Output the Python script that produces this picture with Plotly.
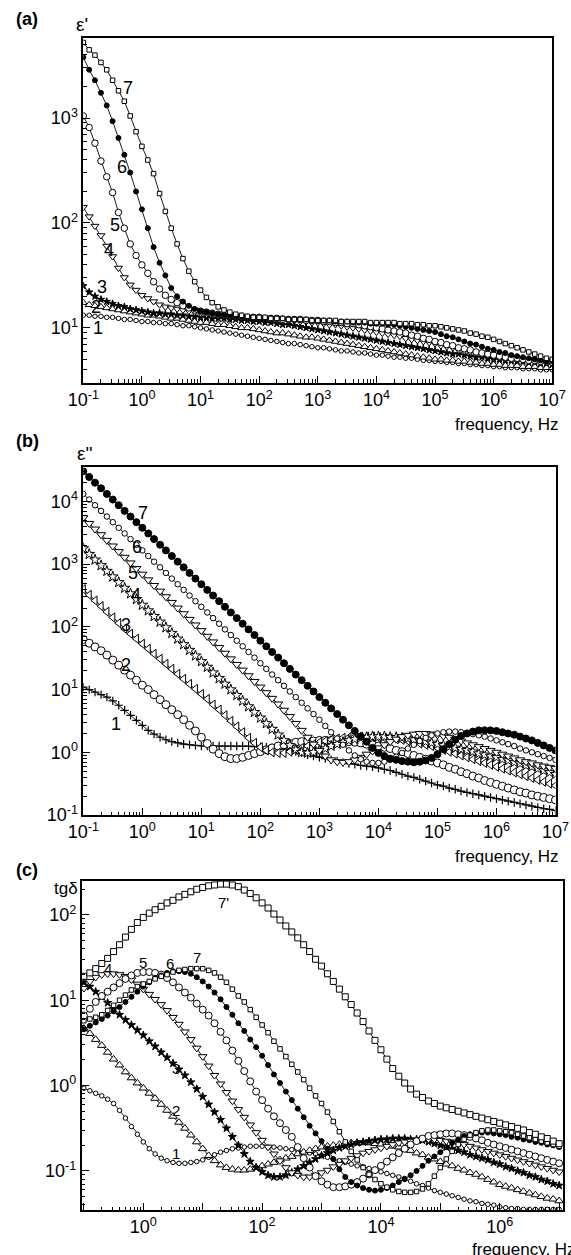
import plotly.graph_objects as go

# ---------------- data (stored as log10) ----------------
FREQ_HZ = [
    0.1, 0.126, 0.158, 0.2, 0.251, 0.316, 0.398, 0.501, 0.631, 0.794,
    1, 1.26, 1.58, 2, 2.51, 3.16, 3.98, 5.01, 6.31, 7.94,
    10, 12.6, 15.8, 20, 25.1, 31.6, 39.8, 50.1, 63.1, 79.4,
    100, 126, 158, 200, 251, 316, 398, 501, 631, 794,
    1e3, 1.26e3, 1.58e3, 2e3, 2.51e3, 3.16e3, 3.98e3, 5.01e3, 6.31e3, 7.94e3,
    1e4, 1.26e4, 1.58e4, 2e4, 2.51e4, 3.16e4, 3.98e4, 5.01e4, 6.31e4, 7.94e4,
    1e5, 1.26e5, 1.58e5, 2e5, 2.51e5, 3.16e5, 3.98e5, 5.01e5, 6.31e5, 7.94e5,
    1e6, 1.26e6, 1.58e6, 2e6, 2.51e6, 3.16e6, 3.98e6, 5.01e6, 6.31e6, 7.94e6,
    1e7,
]

# (a) eps' , log10
epsP_1 = [1.12,1.12,1.11,1.11,1.10,1.10,1.09,1.08,1.08,1.07,
          1.06,1.06,1.05,1.05,1.04,1.04,1.03,1.02,1.02,1.01,
          1.00,0.99,0.98,0.97,0.96,0.95,0.94,0.93,0.92,0.91,
          0.90,0.89,0.88,0.87,0.86,0.85,0.85,0.84,0.83,0.82,
          0.81,0.81,0.80,0.79,0.78,0.78,0.77,0.76,0.76,0.75,
          0.74,0.74,0.73,0.72,0.72,0.71,0.71,0.70,0.69,0.69,
          0.68,0.68,0.67,0.67,0.66,0.66,0.65,0.65,0.64,0.64,
          0.63,0.63,0.62,0.62,0.62,0.61,0.61,0.61,0.60,0.60,
          0.60]
epsP_2 = [1.24,1.22,1.21,1.20,1.19,1.18,1.17,1.16,1.15,1.14,
          1.13,1.12,1.12,1.11,1.10,1.09,1.09,1.08,1.07,1.06,
          1.05,1.05,1.04,1.03,1.03,1.02,1.01,1.00,1.00,0.99,
          0.98,0.97,0.96,0.95,0.95,0.94,0.93,0.92,0.91,0.91,
          0.90,0.89,0.88,0.87,0.86,0.85,0.84,0.83,0.82,0.81,
          0.80,0.79,0.78,0.77,0.76,0.75,0.74,0.73,0.72,0.71,
          0.70,0.70,0.69,0.69,0.68,0.68,0.67,0.67,0.66,0.66,
          0.65,0.65,0.64,0.64,0.64,0.63,0.63,0.63,0.62,0.62,
          0.62]
epsP_3 = [1.40,1.34,1.30,1.27,1.25,1.23,1.21,1.20,1.18,1.17,
          1.16,1.15,1.14,1.14,1.13,1.13,1.12,1.12,1.11,1.11,
          1.10,1.10,1.09,1.09,1.09,1.08,1.08,1.07,1.07,1.06,
          1.06,1.05,1.05,1.04,1.03,1.03,1.02,1.01,1.00,0.99,
          0.98,0.97,0.96,0.95,0.94,0.93,0.92,0.91,0.90,0.89,
          0.88,0.87,0.86,0.85,0.84,0.83,0.82,0.81,0.80,0.79,
          0.78,0.77,0.76,0.75,0.75,0.74,0.73,0.72,0.72,0.71,
          0.70,0.70,0.69,0.69,0.68,0.68,0.67,0.67,0.66,0.66,
          0.65]
epsP_4 = [2.15,2.06,1.97,1.88,1.78,1.68,1.57,1.48,1.41,1.36,
          1.31,1.28,1.25,1.22,1.20,1.19,1.18,1.17,1.16,1.15,
          1.14,1.13,1.13,1.12,1.12,1.11,1.11,1.11,1.10,1.10,
          1.10,1.09,1.09,1.08,1.08,1.07,1.07,1.06,1.06,1.05,
          1.05,1.04,1.03,1.03,1.02,1.01,1.00,0.99,0.98,0.97,
          0.96,0.95,0.94,0.93,0.92,0.90,0.89,0.88,0.87,0.86,
          0.85,0.83,0.82,0.81,0.79,0.78,0.77,0.76,0.75,0.74,
          0.73,0.72,0.71,0.70,0.70,0.69,0.68,0.68,0.67,0.67,
          0.66]
epsP_5 = [3.02,2.91,2.76,2.59,2.44,2.29,2.10,1.95,1.80,1.69,
          1.60,1.52,1.44,1.37,1.31,1.27,1.24,1.21,1.19,1.17,
          1.16,1.15,1.14,1.13,1.12,1.12,1.11,1.11,1.10,1.10,
          1.10,1.09,1.09,1.09,1.08,1.08,1.08,1.08,1.07,1.07,
          1.07,1.06,1.06,1.05,1.05,1.04,1.04,1.03,1.02,1.01,
          1.00,0.99,0.98,0.97,0.96,0.95,0.93,0.92,0.90,0.89,
          0.87,0.86,0.84,0.83,0.81,0.80,0.79,0.77,0.76,0.75,
          0.74,0.73,0.72,0.71,0.71,0.70,0.69,0.69,0.68,0.68,
          0.67]
epsP_6 = [3.58,3.46,3.36,3.24,3.12,2.97,2.81,2.65,2.48,2.30,
          2.13,1.95,1.77,1.62,1.50,1.38,1.30,1.25,1.21,1.18,
          1.16,1.15,1.14,1.13,1.12,1.12,1.11,1.11,1.10,1.10,
          1.10,1.09,1.09,1.09,1.09,1.08,1.08,1.08,1.08,1.07,
          1.07,1.07,1.07,1.06,1.06,1.06,1.05,1.05,1.05,1.04,
          1.04,1.04,1.03,1.03,1.02,1.01,1.00,0.99,0.98,0.97,
          0.96,0.94,0.92,0.91,0.89,0.87,0.85,0.84,0.82,0.80,
          0.79,0.77,0.76,0.74,0.73,0.72,0.71,0.70,0.69,0.68,
          0.68]
epsP_7 = [3.72,3.65,3.60,3.53,3.46,3.36,3.26,3.16,3.02,2.87,
          2.73,2.60,2.47,2.28,2.11,1.95,1.80,1.66,1.54,1.44,
          1.36,1.29,1.24,1.20,1.17,1.15,1.13,1.12,1.11,1.10,
          1.10,1.10,1.09,1.09,1.09,1.08,1.08,1.08,1.08,1.07,
          1.07,1.07,1.07,1.07,1.06,1.06,1.06,1.06,1.06,1.05,
          1.05,1.05,1.05,1.05,1.04,1.04,1.04,1.03,1.03,1.02,
          1.02,1.01,1.00,0.99,0.98,0.97,0.95,0.94,0.92,0.91,
          0.89,0.87,0.85,0.83,0.81,0.79,0.77,0.75,0.73,0.71,
          0.70]

# (b) eps'' , log10
epsPP_1 = [1.04,1.00,0.96,0.92,0.88,0.82,0.75,0.67,0.59,0.51,
           0.43,0.35,0.29,0.24,0.20,0.17,0.15,0.13,0.12,0.11,
           0.10,0.10,0.10,0.10,0.10,0.10,0.10,0.10,0.10,0.09,
           0.09,0.08,0.07,0.06,0.05,0.03,0.01,-0.01,-0.04,-0.06,
           -0.08,-0.10,-0.12,-0.14,-0.16,-0.18,-0.19,-0.21,-0.22,-0.23,
           -0.25,-0.27,-0.29,-0.32,-0.35,-0.38,-0.40,-0.43,-0.46,-0.49,
           -0.52,-0.54,-0.57,-0.59,-0.62,-0.64,-0.66,-0.68,-0.70,-0.72,
           -0.74,-0.76,-0.78,-0.80,-0.82,-0.84,-0.86,-0.88,-0.90,-0.91,
           -0.93]
epsPP_2 = [1.80,1.74,1.68,1.62,1.55,1.47,1.39,1.31,1.23,1.15,
           1.07,1.00,0.92,0.84,0.76,0.68,0.60,0.52,0.43,0.34,
           0.24,0.14,0.05,-0.02,-0.07,-0.10,-0.10,-0.08,-0.05,-0.02,
           0.01,0.04,0.07,0.10,0.12,0.14,0.16,0.17,0.18,0.18,
           0.19,0.19,0.19,0.18,0.18,0.17,0.16,0.15,0.13,0.12,
           0.10,0.08,0.06,0.03,0.01,-0.02,-0.05,-0.08,-0.11,-0.14,
           -0.17,-0.20,-0.24,-0.27,-0.31,-0.34,-0.38,-0.41,-0.45,-0.48,
           -0.51,-0.54,-0.57,-0.60,-0.63,-0.65,-0.68,-0.70,-0.72,-0.74,
           -0.76]
epsPP_3 = [2.60,2.51,2.42,2.33,2.24,2.15,2.06,1.97,1.89,1.81,
           1.73,1.65,1.57,1.49,1.41,1.33,1.25,1.17,1.09,1.01,
           0.93,0.85,0.76,0.68,0.59,0.50,0.41,0.32,0.23,0.15,
           0.08,0.03,0.00,-0.01,-0.01,0.01,0.04,0.07,0.10,0.13,
           0.16,0.18,0.20,0.22,0.23,0.24,0.25,0.25,0.25,0.25,
           0.24,0.23,0.22,0.21,0.20,0.18,0.16,0.14,0.12,0.10,
           0.07,0.04,0.01,-0.02,-0.05,-0.08,-0.11,-0.14,-0.17,-0.20,
           -0.23,-0.26,-0.29,-0.32,-0.35,-0.38,-0.41,-0.44,-0.47,-0.50,
           -0.53]
epsPP_4 = [3.25,3.16,3.07,2.98,2.89,2.80,2.71,2.62,2.53,2.44,
           2.35,2.26,2.17,2.08,1.99,1.90,1.81,1.72,1.63,1.54,
           1.45,1.36,1.27,1.18,1.09,1.00,0.91,0.82,0.73,0.64,
           0.55,0.46,0.37,0.28,0.19,0.11,0.04,0.00,-0.01,0.00,
           0.03,0.06,0.10,0.13,0.16,0.19,0.21,0.23,0.24,0.25,
           0.25,0.25,0.24,0.24,0.23,0.22,0.20,0.19,0.17,0.15,
           0.13,0.11,0.09,0.07,0.05,0.03,0.01,-0.02,-0.04,-0.06,
           -0.08,-0.11,-0.13,-0.16,-0.18,-0.21,-0.23,-0.26,-0.29,-0.32,
           -0.35]
epsPP_5 = [3.74,3.65,3.56,3.47,3.38,3.29,3.20,3.11,3.02,2.93,
           2.84,2.75,2.66,2.57,2.48,2.39,2.30,2.21,2.12,2.03,
           1.94,1.85,1.76,1.67,1.58,1.49,1.40,1.31,1.22,1.13,
           1.04,0.95,0.86,0.77,0.67,0.57,0.46,0.35,0.24,0.13,
           0.03,-0.06,-0.12,-0.15,-0.16,-0.15,-0.12,-0.08,-0.03,0.02,
           0.07,0.12,0.17,0.21,0.25,0.27,0.29,0.30,0.30,0.29,
           0.28,0.26,0.24,0.21,0.18,0.15,0.12,0.09,0.06,0.03,
           0.00,-0.03,-0.06,-0.09,-0.12,-0.15,-0.17,-0.20,-0.22,-0.24,
           -0.26]
epsPP_6 = [4.12,4.03,3.94,3.85,3.76,3.67,3.58,3.49,3.40,3.31,
           3.22,3.13,3.04,2.95,2.86,2.77,2.68,2.59,2.50,2.41,
           2.32,2.23,2.14,2.05,1.96,1.87,1.78,1.69,1.60,1.51,
           1.42,1.33,1.24,1.15,1.06,0.97,0.88,0.79,0.70,0.61,
           0.52,0.42,0.32,0.22,0.12,0.03,-0.05,-0.11,-0.15,-0.17,
           -0.17,-0.15,-0.12,-0.07,-0.01,0.06,0.12,0.18,0.23,0.27,
           0.30,0.32,0.33,0.33,0.32,0.31,0.29,0.27,0.25,0.22,
           0.19,0.16,0.13,0.10,0.06,0.03,0.00,-0.03,-0.06,-0.09,
           -0.12]
epsPP_7 = [4.48,4.39,4.30,4.21,4.12,4.03,3.94,3.85,3.76,3.67,
           3.58,3.49,3.40,3.31,3.22,3.13,3.04,2.95,2.86,2.77,
           2.68,2.59,2.50,2.41,2.32,2.23,2.14,2.05,1.96,1.87,
           1.78,1.69,1.60,1.51,1.42,1.33,1.24,1.15,1.06,0.97,
           0.88,0.79,0.70,0.61,0.52,0.43,0.34,0.25,0.17,0.07,
           -0.01,-0.06,-0.10,-0.12,-0.14,-0.15,-0.16,-0.15,-0.13,-0.09,
           -0.03,0.05,0.13,0.20,0.26,0.30,0.33,0.35,0.35,0.35,
           0.34,0.32,0.30,0.28,0.25,0.22,0.19,0.15,0.11,0.07,
           0.03]

# (c) tg delta , log10
tgd_1 = [-0.03,-0.06,-0.09,-0.12,-0.16,-0.21,-0.29,-0.38,-0.48,-0.57,
         -0.66,-0.74,-0.80,-0.85,-0.88,-0.90,-0.91,-0.91,-0.90,-0.89,
         -0.87,-0.84,-0.81,-0.78,-0.76,-0.74,-0.73,-0.72,-0.71,-0.71,
         -0.71,-0.72,-0.72,-0.73,-0.74,-0.75,-0.76,-0.78,-0.79,-0.80,
         -0.82,-0.84,-0.86,-0.88,-0.90,-0.92,-0.94,-0.95,-0.97,-0.99,
         -1.01,-1.03,-1.05,-1.07,-1.10,-1.12,-1.15,-1.17,-1.20,-1.23,
         -1.25,-1.27,-1.29,-1.31,-1.33,-1.35,-1.36,-1.38,-1.39,-1.40,
         -1.42,-1.43,-1.44,-1.44,-1.45,-1.45,-1.45,-1.45,-1.45,-1.45,
         -1.45]
tgd_2 = [0.67,0.61,0.54,0.47,0.39,0.31,0.24,0.16,0.09,0.03,
         -0.03,-0.09,-0.15,-0.22,-0.29,-0.36,-0.43,-0.50,-0.58,-0.66,
         -0.74,-0.82,-0.88,-0.93,-0.96,-0.98,-0.99,-0.99,-0.98,-0.96,
         -0.94,-0.92,-0.90,-0.87,-0.85,-0.83,-0.80,-0.78,-0.76,-0.74,
         -0.72,-0.71,-0.70,-0.69,-0.68,-0.67,-0.67,-0.67,-0.67,-0.68,
         -0.69,-0.70,-0.71,-0.72,-0.74,-0.76,-0.79,-0.81,-0.84,-0.86,
         -0.89,-0.92,-0.94,-0.97,-0.99,-1.02,-1.04,-1.07,-1.10,-1.13,
         -1.16,-1.18,-1.20,-1.22,-1.24,-1.26,-1.28,-1.30,-1.32,-1.33,
         -1.35]
tgd_3 = [1.21,1.16,1.10,1.04,0.97,0.90,0.83,0.77,0.71,0.65,
         0.59,0.52,0.46,0.39,0.33,0.26,0.19,0.12,0.04,-0.04,
         -0.13,-0.22,-0.31,-0.40,-0.50,-0.60,-0.70,-0.80,-0.89,-0.96,
         -1.01,-1.05,-1.07,-1.07,-1.05,-1.02,-0.98,-0.94,-0.90,-0.86,
         -0.82,-0.79,-0.76,-0.73,-0.71,-0.69,-0.67,-0.66,-0.65,-0.64,
         -0.63,-0.63,-0.62,-0.62,-0.62,-0.63,-0.63,-0.64,-0.66,-0.68,
         -0.70,-0.72,-0.74,-0.76,-0.78,-0.81,-0.83,-0.85,-0.87,-0.90,
         -0.92,-0.95,-0.97,-1.00,-1.02,-1.05,-1.07,-1.10,-1.12,-1.15,
         -1.17]
tgd_4 = [1.14,1.22,1.27,1.30,1.31,1.31,1.30,1.28,1.24,1.19,
         1.13,1.07,1.01,0.95,0.88,0.80,0.72,0.63,0.54,0.44,
         0.34,0.23,0.12,0.02,-0.08,-0.18,-0.28,-0.37,-0.46,-0.55,
         -0.64,-0.72,-0.80,-0.88,-0.96,-1.02,-1.05,-1.07,-1.07,-1.05,
         -1.02,-0.99,-0.95,-0.92,-0.88,-0.85,-0.82,-0.79,-0.77,-0.75,
         -0.73,-0.71,-0.69,-0.67,-0.66,-0.65,-0.64,-0.63,-0.63,-0.63,
         -0.64,-0.65,-0.66,-0.68,-0.69,-0.71,-0.73,-0.75,-0.77,-0.79,
         -0.81,-0.83,-0.85,-0.87,-0.89,-0.91,-0.93,-0.95,-0.97,-0.99,
         -1.01]
tgd_5 = [0.82,0.90,0.98,1.05,1.10,1.15,1.20,1.25,1.29,1.32,
         1.33,1.33,1.32,1.30,1.26,1.21,1.15,1.09,1.03,0.96,
         0.89,0.82,0.73,0.63,0.53,0.41,0.29,0.17,0.05,-0.07,
         -0.17,-0.27,-0.36,-0.44,-0.52,-0.60,-0.72,-0.85,-0.96,-1.06,
         -1.12,-1.16,-1.19,-1.19,-1.18,-1.16,-1.13,-1.09,-1.04,-0.99,
         -0.94,-0.89,-0.84,-0.79,-0.74,-0.69,-0.65,-0.62,-0.59,-0.58,
         -0.57,-0.56,-0.56,-0.57,-0.58,-0.60,-0.62,-0.64,-0.67,-0.69,
         -0.71,-0.73,-0.75,-0.77,-0.79,-0.81,-0.83,-0.85,-0.87,-0.89,
         -0.91]
tgd_6 = [0.66,0.70,0.74,0.78,0.82,0.87,0.92,0.98,1.04,1.10,
         1.16,1.21,1.26,1.29,1.32,1.34,1.34,1.33,1.31,1.27,
         1.22,1.16,1.09,1.01,0.92,0.83,0.73,0.64,0.54,0.45,
         0.35,0.24,0.13,0.03,-0.07,-0.17,-0.27,-0.37,-0.47,-0.56,
         -0.65,-0.74,-0.86,-0.98,-1.07,-1.13,-1.17,-1.20,-1.22,-1.23,
         -1.22,-1.20,-1.17,-1.13,-1.09,-1.05,-1.00,-0.94,-0.88,-0.83,
         -0.78,-0.72,-0.67,-0.63,-0.59,-0.57,-0.56,-0.55,-0.55,-0.56,
         -0.57,-0.58,-0.60,-0.61,-0.63,-0.64,-0.66,-0.67,-0.69,-0.70,
         -0.72]
tgd_7 = [0.76,0.78,0.80,0.83,0.88,0.94,1.00,1.06,1.12,1.16,
         1.19,1.22,1.25,1.28,1.30,1.33,1.35,1.36,1.37,1.37,
         1.37,1.35,1.32,1.27,1.21,1.13,1.05,0.98,0.89,0.80,
         0.71,0.62,0.52,0.43,0.34,0.25,0.16,0.07,-0.03,-0.12,
         -0.21,-0.31,-0.42,-0.54,-0.66,-0.77,-0.87,-0.96,-1.04,-1.10,
         -1.15,-1.19,-1.22,-1.24,-1.25,-1.25,-1.24,-1.21,-1.15,-1.06,
         -0.96,-0.86,-0.77,-0.69,-0.63,-0.58,-0.55,-0.53,-0.52,-0.52,
         -0.53,-0.54,-0.55,-0.57,-0.59,-0.61,-0.63,-0.65,-0.67,-0.69,
         -0.71]
tgd_7p = [1.28,1.32,1.37,1.43,1.49,1.57,1.65,1.74,1.83,1.91,
          1.97,2.02,2.06,2.10,2.14,2.17,2.21,2.24,2.27,2.30,
          2.32,2.34,2.35,2.36,2.36,2.35,2.33,2.29,2.25,2.20,
          2.14,2.08,2.01,1.94,1.87,1.80,1.73,1.65,1.57,1.48,
          1.40,1.31,1.22,1.13,1.04,0.95,0.85,0.75,0.64,0.53,
          0.42,0.31,0.20,0.11,0.03,-0.04,-0.10,-0.14,-0.18,-0.21,
          -0.24,-0.26,-0.28,-0.30,-0.32,-0.34,-0.36,-0.38,-0.40,-0.42,
          -0.44,-0.46,-0.48,-0.50,-0.52,-0.55,-0.57,-0.60,-0.62,-0.65,
          -0.68]

X_TICKS = [0.1, 1, 10, 100, 1e3, 1e4, 1e5, 1e6, 1e7]
X_TICKTEXT = ["10<sup>-1</sup>", "10<sup>0</sup>", "10<sup>1</sup>", "10<sup>2</sup>", "10<sup>3</sup>",
              "10<sup>4</sup>", "10<sup>5</sup>", "10<sup>6</sup>", "10<sup>7</sup>"]
C_X_TICKTEXT = ["", "10<sup>0</sup>", "", "10<sup>2</sup>", "", "10<sup>4</sup>", "", "10<sup>6</sup>", ""]
A_Y_TICKS = [10, 100, 1000]
A_Y_TICKTEXT = ["10<sup>1</sup>", "10<sup>2</sup>", "10<sup>3</sup>"]
B_Y_TICKS = [0.1, 1, 10, 100, 1e3, 1e4]
B_Y_TICKTEXT = ["10<sup>-1</sup>", "10<sup>0</sup>", "10<sup>1</sup>", "10<sup>2</sup>", "10<sup>3</sup>", "10<sup>4</sup>"]
C_Y_TICKS = [0.1, 1, 10, 100]
C_Y_TICKTEXT = ["10<sup>-1</sup>", "10<sup>0</sup>", "10<sup>1</sup>", "10<sup>2</sup>"]

# ---------------- figure ----------------
W, H = 571, 1255
FONT = "Liberation Sans, Arial, Helvetica, sans-serif"


def px(x):
    return x / W


def py(y):
    return 1 - y / H


def lin(v):
    return [10 ** t for t in v]


MINOR = [m * 10 ** e for e in range(-2, 8) for m in range(2, 10)]

fig = go.Figure()


def add(ylog, ax, symbol, size, fill, lw=1.0):
    xa = "x" if ax == 1 else "x%d" % ax
    ya = "y" if ax == 1 else "y%d" % ax
    fig.add_trace(go.Scatter(
        x=FREQ_HZ, y=lin(ylog), xaxis=xa, yaxis=ya, mode="lines+markers",
        line=dict(color="black", width=0.9),
        marker=dict(symbol=symbol, size=size, color=fill, line=dict(color="black", width=lw)),
        showlegend=False, hoverinfo="skip"))


W_ = "white"
K_ = "black"
# panel (a)
add(epsP_1, 1, "circle", 4.5, W_)
add(epsP_2, 1, "triangle-up", 7, W_)
add(epsP_3, 1, "star", 5.5, K_)
add(epsP_4, 1, "triangle-down", 7, W_)
add(epsP_5, 1, "circle", 6.5, W_)
add(epsP_6, 1, "circle", 5, K_)
add(epsP_7, 1, "square", 4.5, W_)
# panel (b)
add(epsPP_1, 2, "cross-thin-open", 6, K_, 1.2)
add(epsPP_2, 2, "circle", 8, W_)
add(epsPP_3, 2, "triangle-left", 8, W_)
add(epsPP_4, 2, "star", 8, W_)
add(epsPP_5, 2, "triangle-down", 8, W_)
add(epsPP_6, 2, "circle", 5.5, W_)
add(epsPP_7, 2, "circle", 7, K_)
# panel (c)
add(tgd_1, 3, "circle", 4.5, W_)
add(tgd_2, 3, "triangle-up", 7.5, W_)
add(tgd_3, 3, "star", 6, K_)
add(tgd_4, 3, "triangle-down", 7.5, W_)
add(tgd_5, 3, "circle", 7, W_)
add(tgd_6, 3, "circle", 5, K_)
add(tgd_7, 3, "square", 4.5, W_)
add(tgd_7p, 3, "square", 6, W_)

axis_common = dict(
    type="log", showline=True, mirror=True, linecolor="black", linewidth=1.6,
    ticks="inside", ticklen=7, tickwidth=1.2, tickcolor="black", automargin=False,
    showgrid=False, zeroline=False, tickmode="array",
    tickfont=dict(family=FONT, size=18, color="black"),
    minor=dict(tickmode="array", tickvals=MINOR, ticks="inside", ticklen=3.5,
               tickwidth=1, tickcolor="black", showgrid=False),
)

fig.update_layout(
    width=W, height=H, margin=dict(l=0, r=0, t=0, b=0, autoexpand=False),
    paper_bgcolor="white", plot_bgcolor="white",
    font=dict(family=FONT, color="black"),
    xaxis=dict(axis_common, domain=[px(83.3), px(552.3)], range=[-1, 7], anchor="y",
               tickvals=X_TICKS, ticktext=X_TICKTEXT),
    yaxis=dict(axis_common, domain=[py(382.7), py(38.3)], range=[0.477, 3.76], anchor="x",
               tickvals=A_Y_TICKS, ticktext=A_Y_TICKTEXT),
    xaxis2=dict(axis_common, domain=[px(83.3), px(555.5)], range=[-1, 7], anchor="y2",
                tickvals=X_TICKS, ticktext=X_TICKTEXT),
    yaxis2=dict(axis_common, domain=[py(815), py(467.3)], range=[-1, 4.545], anchor="x2",
                tickvals=B_Y_TICKS, ticktext=B_Y_TICKTEXT),
    xaxis3=dict(axis_common, domain=[px(81.7), px(563.3)], range=[-1.037, 7.07], anchor="y3",
                tickvals=X_TICKS, ticktext=C_X_TICKTEXT),
    yaxis3=dict(axis_common, domain=[py(1210), py(880.7)], range=[-1.457, 2.40], anchor="x3",
                tickvals=C_Y_TICKS, ticktext=C_Y_TICKTEXT),
)


def ann(text, x, y, size, xanchor="center"):
    fig.add_annotation(text=text, x=px(x), y=py(y), xref="paper", yref="paper",
                       showarrow=False, xanchor=xanchor, yanchor="middle",
                       font=dict(family=FONT, size=size, color="black"))


# panel letters and axis titles
ann("<b>(a)</b>", 27, 19, 18)
ann("<b>(b)</b>", 27, 441, 18)
ann("<b>(c)</b>", 27, 870, 18)
ann("ε'", 82, 25, 19)
ann("ε''", 85, 453, 19)
ann("tgδ", 66, 888, 17)
ann("frequency, Hz", 561, 424, 17, "right")
ann("frequency, Hz", 561, 856, 17, "right")
ann("frequency, Hz", 470, 1249, 17, "left")

# curve numbers
for t, x, y in [("7", 128, 88), ("6", 122, 167), ("5", 115, 225), ("4", 109, 250),
                ("3", 102, 287), ("2", 96, 307), ("1", 98, 328)]:
    ann(t, x, y, 18)
for t, x, y in [("7", 143, 513), ("6", 137, 547), ("5", 133, 573), ("4", 136, 595),
                ("3", 126, 625), ("2", 126, 665), ("1", 116, 724)]:
    ann(t, x, y, 18)
for t, x, y in [("7'", 223, 902), ("7", 197, 957), ("6", 170, 963), ("5", 143, 962),
                ("4", 108, 968), ("3", 176, 1068), ("2", 176, 1110), ("1", 176, 1153)]:
    ann(t, x, y, 15)

fig.write_html(
    "out.html",
    config={"displayModeBar": False},
    post_script="document.body.style.margin='0px';document.body.style.overflow='hidden';",
)
